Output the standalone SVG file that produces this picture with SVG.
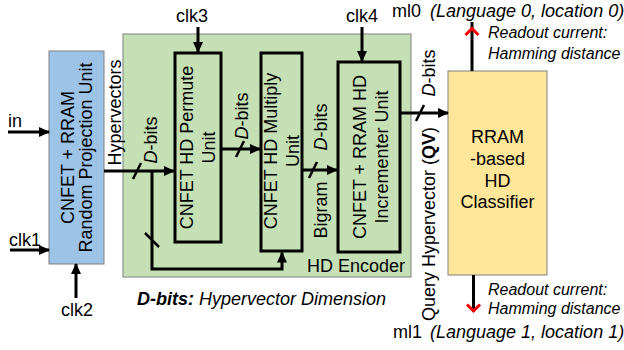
<svg xmlns="http://www.w3.org/2000/svg" width="624" height="350" viewBox="0 0 624 350">
<defs>
<style>
text{font-family:"Liberation Sans",Arial,sans-serif;fill:#000}
.t18{font-size:18px}
.t17{font-size:17px}
.t16{font-size:16px}
.it{font-style:italic}
.b{font-weight:bold}
.unit{fill:#c5e0b4;stroke:#000;stroke-width:3}
.wire{fill:none;stroke:#000;stroke-width:3}
.tick{fill:none;stroke:#000;stroke-width:2.5}
.red{fill:none;stroke:#ff0000;stroke-width:3}
</style>
<marker id="ah" markerUnits="userSpaceOnUse" markerWidth="11" markerHeight="10" refX="10" refY="5" orient="auto">
<path d="M0,0 L11,5 L0,10 z" fill="#000"/>
</marker>
</defs>

<g id="encoder">
<rect x="123" y="34" width="288" height="243" fill="#c5e0b4" stroke="#808080" stroke-width="1"/>
<text class="t18" x="307" y="272">HD Encoder</text>
</g>

<g id="projection">
<rect x="49" y="51" width="55" height="213" fill="#9dc3e6" stroke="#808080" stroke-width="1"/>
<text class="t18" text-anchor="middle" transform="translate(74,157.5) rotate(-90)">CNFET + RRAM</text>
<text class="t18" text-anchor="middle" transform="translate(92,157.5) rotate(-90)">Random Projection Unit</text>
</g>

<g id="permute">
<rect class="unit" x="175" y="53" width="46" height="189"/>
<text class="t18" text-anchor="middle" transform="translate(193,147.5) rotate(-90)">CNFET HD Permute</text>
<text class="t18" text-anchor="middle" transform="translate(215,147.5) rotate(-90)">Unit</text>
</g>

<g id="multiply">
<rect class="unit" x="261" y="53" width="41" height="198"/>
<text class="t18" text-anchor="middle" transform="translate(277,151) rotate(-90)">CNFET HD Multiply</text>
<text class="t18" text-anchor="middle" transform="translate(299,151) rotate(-90)">Unit</text>
</g>

<g id="incrementer">
<rect class="unit" x="338" y="62" width="62" height="190"/>
<text class="t18" text-anchor="middle" transform="translate(366,157) rotate(-90)">CNFET + RRAM HD</text>
<text class="t18" text-anchor="middle" transform="translate(388,157) rotate(-90)">Incrementer Unit</text>
</g>

<g id="classifier">
<rect x="448" y="71" width="99" height="204" fill="#ffe699" stroke="#808080" stroke-width="1"/>
<text class="t18" text-anchor="middle" x="497.5" y="143">RRAM</text>
<text class="t18" text-anchor="middle" x="497.5" y="165">-based</text>
<text class="t18" text-anchor="middle" x="497.5" y="187">HD</text>
<text class="t18" text-anchor="middle" x="497.5" y="208">Classifier</text>
</g>

<g id="connectors">
<line class="wire" x1="8" y1="132" x2="49" y2="132" marker-end="url(#ah)"/>
<line class="wire" x1="10" y1="250" x2="49" y2="250" marker-end="url(#ah)"/>
<line class="wire" x1="76" y1="298" x2="76" y2="264" marker-end="url(#ah)"/>
<line class="wire" x1="198" y1="27" x2="198" y2="52" marker-end="url(#ah)"/>
<line class="wire" x1="362" y1="27" x2="362" y2="61" marker-end="url(#ah)"/>
<line class="wire" x1="104" y1="171" x2="174" y2="171" marker-end="url(#ah)"/>
<polyline class="wire" points="152,171 152,269 282,269 282,252.5" marker-end="url(#ah)"/>
<line class="wire" x1="222" y1="149" x2="260" y2="149" marker-end="url(#ah)"/>
<line class="wire" x1="302" y1="170" x2="337" y2="170" marker-end="url(#ah)"/>
<line class="wire" x1="401" y1="113" x2="448" y2="113" marker-end="url(#ah)"/>
<line class="wire" x1="472" y1="71" x2="472" y2="22"/>
<polyline class="red" points="465.5,35 472,28.5 478.5,35"/>
<line class="wire" x1="473.5" y1="275" x2="473.5" y2="312"/>
<polyline class="red" points="467,304.5 473.5,311 480,304.5"/>
<line class="tick" x1="133" y1="179" x2="141" y2="163"/>
<line class="tick" x1="236" y1="157" x2="244" y2="141"/>
<line class="tick" x1="309" y1="178" x2="317" y2="162"/>
<line class="tick" x1="416" y1="121" x2="424" y2="105"/>
<line class="tick" x1="145" y1="233" x2="159" y2="247"/>
</g>

<g id="labels">
<text class="t18" x="8" y="127">in</text>
<text class="t18" x="9" y="246">clk1</text>
<text class="t18" x="61" y="316">clk2</text>
<text class="t18" x="176" y="22">clk3</text>
<text class="t18" x="346" y="22">clk4</text>
<text class="t18" text-anchor="middle" transform="translate(121,112.5) rotate(-90)">Hypervectors</text>
<text class="t18" text-anchor="middle" transform="translate(157,140) rotate(-90)"><tspan class="it">D</tspan>-bits</text>
<text class="t18" text-anchor="middle" transform="translate(248,116) rotate(-90)"><tspan class="it">D</tspan>-bits</text>
<text class="t18" text-anchor="middle" transform="translate(327,127) rotate(-90)"><tspan class="it">D</tspan>-bits</text>
<text class="t18" text-anchor="middle" transform="translate(327,210) rotate(-90)">Bigram</text>
<text class="t18" text-anchor="middle" transform="translate(435,73) rotate(-90)"><tspan class="it">D</tspan>-bits</text>
<text class="t18" text-anchor="middle" transform="translate(435,224) rotate(-90)">Query Hypervector (<tspan class="b">QV</tspan>)</text>
<text class="t18" x="137" y="305"><tspan class="it b">D-bits:</tspan><tspan class="it"> Hypervector Dimension</tspan></text>
<text class="t18" x="392" y="17">ml0</text>
<text class="t18 it" x="430" y="17">(Language 0, location 0)</text>
<text class="t16 it" x="488" y="38">Readout current:</text>
<text class="t16 it" x="488" y="59">Hamming distance</text>
<text class="t16 it" x="488" y="295">Readout current:</text>
<text class="t16 it" x="488" y="314">Hamming distance</text>
<text class="t18" x="393" y="338">ml1</text>
<text class="t18 it" x="430" y="338">(Language 1, location 1)</text>
</g>
</svg>
